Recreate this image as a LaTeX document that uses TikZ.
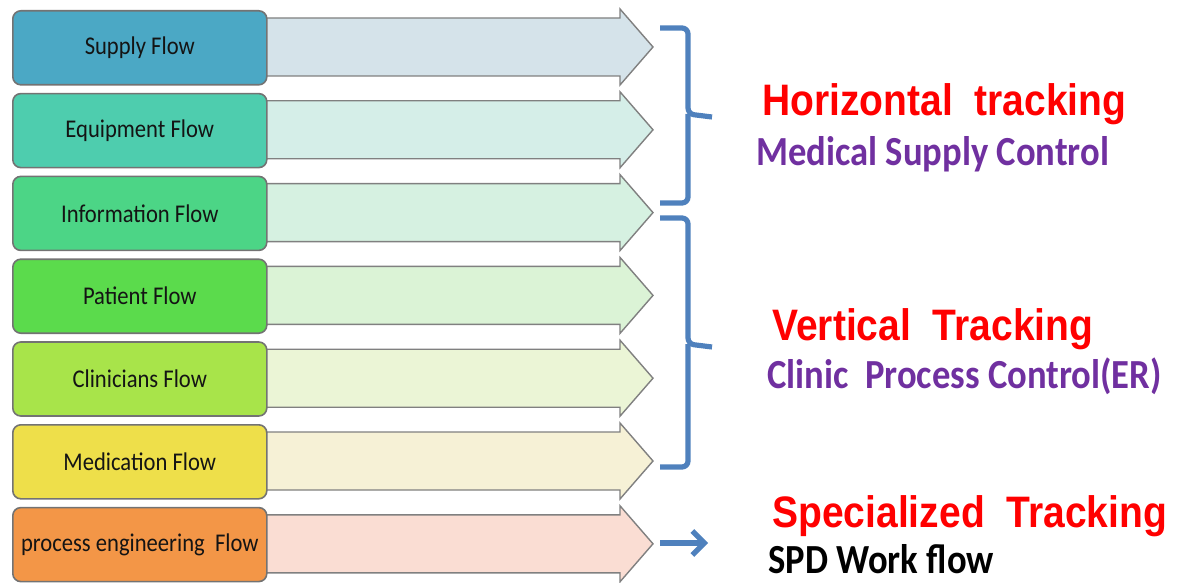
\documentclass[tikz,border=0pt]{standalone}
\usepackage{fontspec}
\setmainfont{Carlito}
\newfontfamily\arialb{Liberation Sans}[BoldFont={* Bold}]
\usetikzlibrary{arrows.meta}
\definecolor{cA}{HTML}{4BA8C5}\definecolor{lA}{HTML}{D5E3EA}
\definecolor{cB}{HTML}{4ECDAE}\definecolor{lB}{HTML}{D5EEE8}
\definecolor{cC}{HTML}{4CD586}\definecolor{lC}{HTML}{D6F1E1}
\definecolor{cD}{HTML}{5BDB4C}\definecolor{lD}{HTML}{DBF3D6}
\definecolor{cE}{HTML}{A8E44A}\definecolor{lE}{HTML}{EBF5D6}
\definecolor{cF}{HTML}{EEDF4A}\definecolor{lF}{HTML}{F6F1D6}
\definecolor{cG}{HTML}{F39647}\definecolor{lG}{HTML}{FADDD3}
\definecolor{brk}{HTML}{4F81BD}
\definecolor{redt}{HTML}{FF0000}
\definecolor{purp}{HTML}{7030A0}
\tikzset{
  flowbox/.style={draw=black!55, line width=0.8pt, rounded corners=4pt,
    minimum width=127pt, minimum height=37pt, anchor=north west, inner sep=0pt,
    font=\fontsize{11.3pt}{13pt}\selectfont, text=black!92},
  flowarrow/.style={draw=black!50, line width=0.7pt, line join=miter},
  bracket/.style={draw=brk, line width=2.6pt, rounded corners=3pt},
  headtxt/.style={anchor=base west, inner sep=0pt, text=redt,
    font=\arialb\bfseries\fontsize{19.5pt}{22pt}\selectfont},
  subtxt/.style={anchor=base west, inner sep=0pt, text=purp,
    font=\bfseries\fontsize{18.3pt}{21pt}\selectfont},
}
\newcommand{\vs}[1]{\scalebox{1}[1.13]{#1}}
\begin{document}
\begin{tikzpicture}[x=0.5pt,y=-0.5pt]
\useasboundingbox (0,0) rectangle (1179,583);
\foreach \i/\c/\l/\t in {0/A/supply/Supply Flow,1/B/equip/Equipment Flow,2/C/info/Information Flow,3/D/patient/Patient Flow,4/E/clin/Clinicians Flow,5/F/medic/Medication Flow,6/G/proc/process engineering\ \ Flow}{
  \pgfmathsetmacro{\top}{10+82.8*\i}
  \pgfmathsetmacro{\cy}{\top+37}
  \draw[flowarrow, fill=l\c] (262,\cy-29) -- (620,\cy-29) -- (620,\cy-38) -- (653,\cy) -- (620,\cy+38) -- (620,\cy+29) -- (262,\cy+29) -- cycle;
  \node[flowbox, fill=c\c] (\l) at (12,\top) {\vs{\t}};
}
% brackets
\draw[bracket] (660,28) -- (688,28) -- (688,114) -- (712,117);
\draw[bracket] (688,114) -- (688,203) -- (660,203);
\draw[bracket] (660,218) -- (688,218) -- (688,344) -- (712,347);
\draw[bracket] (688,344) -- (688,467) -- (660,467);
% small arrow
\coordinate (sa) at (660,543);
\coordinate (sb) at (708,543);
\draw[draw=brk, line width=2.8pt, -{Straight Barb[length=6pt,width=12pt,line width=2.6pt]}] (sa) -- (sb);
% texts
\node[headtxt] (h1) at (762,116) {\vs{Horizontal\ \ tracking}};
\node[subtxt] (s1) at (756,166) {\vs{Medical Supply Control}};
\node[headtxt] (h2) at (772,340) {\vs{Vertical\ \ Tracking}};
\node[subtxt] (s2) at (767,388) {\vs{Clinic\ \ Process Control(ER)}};
\node[headtxt] (h3) at (772,527) {\vs{Specialized\ \ Tracking}};
\node[subtxt, text=black] (s3) at (768,573) {\vs{SPD Work flow}};
\end{tikzpicture}
\end{document}
